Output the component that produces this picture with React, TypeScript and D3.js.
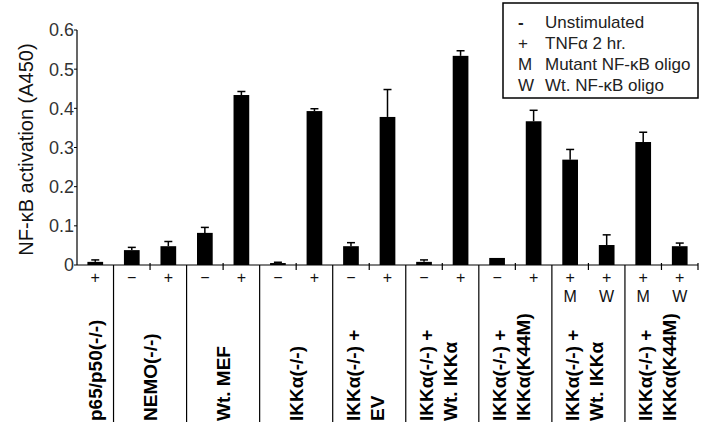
import React from "react";
import * as d3 from "d3";

// one entry per bar, left to right
const treatments = ["+", "−", "+", "−", "+", "−", "+", "−", "+", "−", "+", "−", "+", "+", "+", "+", "+"];
const oligos = ["", "", "", "", "", "", "", "", "", "", "", "", "", "M", "W", "M", "W"];
const values = [0.008, 0.038, 0.048, 0.082, 0.434, 0.005, 0.393, 0.048, 0.378, 0.008, 0.534, 0.018, 0.367, 0.269, 0.051, 0.314, 0.048];
const errors = [0.005, 0.007, 0.012, 0.014, 0.009, 0.002, 0.006, 0.009, 0.07, 0.005, 0.013, 0, 0.028, 0.026, 0.026, 0.025, 0.008];

// cell lines, each covering groupSizes[i] bars
const groupLabels = [
  ["p65/p50(-/-)"],
  ["NEMO(-/-)"],
  ["Wt. MEF"],
  ["IKKα(-/-)"],
  ["IKKα(-/-) +", "EV"],
  ["IKKα(-/-) +", "Wt. IKKα"],
  ["IKKα(-/-) +", "IKKα(K44M)"],
  ["IKKα(-/-) +", "Wt. IKKα"],
  ["IKKα(-/-) +", "IKKα(K44M)"],
];
const groupSizes = [1, 2, 2, 2, 2, 2, 2, 2, 2];

const yTicks = [0, 0.1, 0.2, 0.3, 0.4, 0.5, 0.6];

const legendSymbols = ["-", "+", "M", "W"];
const legendTexts = ["Unstimulated", "TNFα  2 hr.", "Mutant NF-κB oligo", "Wt. NF-κB oligo"];

const W = 716;
const H = 437;
const left = 77;
const right = 698;
const axisY = 265;
const labelBottom = 421;
const font = "'Liberation Sans', Arial, sans-serif";

export default function App() {
  const idx = values.map((_, i) => i);
  const x = d3
    .scaleBand<number>()
    .domain(idx)
    .range([left, right])
    .paddingInner(0.57)
    .paddingOuter(0.285);
  const step = x.step();
  const y = d3.scaleLinear().domain([0, 0.6]).range([axisY, 30]);

  // boundaries between bars
  const starts = d3.cumsum([0, ...groupSizes]);
  const groupEdges = new Set(Array.from(starts).slice(1, -1));
  const boundaries = d3.range(1, values.length + 1);

  const fmt = (v: number) => (v === 0 ? "0" : d3.format(".1f")(v));

  return (
    <svg
      width={W}
      height={H}
      style={{ position: "absolute", left: 0, top: 0, background: "#fff" }}
      fontFamily={font}
    >
      {/* y axis */}
      <line x1={left} x2={left} y1={y(0.6)} y2={axisY} stroke="#000" strokeWidth={1.2} />
      {yTicks.map((t) => (
        <g key={t}>
          <line x1={left - 3} x2={left} y1={y(t)} y2={y(t)} stroke="#000" />
          <text x={left - 3} y={y(t)} dy="0.36em" textAnchor="end" fontSize={18} fill="#333">
            {fmt(t)}
          </text>
        </g>
      ))}
      <text
        transform={`translate(26,${(y(0.6) + axisY) / 2 + 2}) rotate(-90)`}
        textAnchor="middle"
        dominantBaseline="central"
        fontSize={20}
        fill="#111"
      >
        NF-κB activation (A450)
      </text>

      {/* bars */}
      {values.map((v, i) => (
        <rect key={i} x={x(i)} y={y(v)} width={x.bandwidth()} height={axisY - y(v)} fill="#000" />
      ))}
      {/* error bars */}
      {values.map((v, i) => {
        if (!errors[i]) return null;
        const cx = (x(i) as number) + x.bandwidth() / 2;
        return (
          <g key={i} stroke="#000" strokeWidth={1.5}>
            <line x1={cx} x2={cx} y1={y(v)} y2={y(v + errors[i])} />
            <line x1={cx - 4} x2={cx + 4} y1={y(v + errors[i])} y2={y(v + errors[i])} />
          </g>
        );
      })}

      {/* x axis */}
      <line x1={left} x2={right} y1={axisY} y2={axisY} stroke="#000" strokeWidth={1.2} />
      {boundaries.map((b) => {
        const bx = left + b * step;
        return groupEdges.has(b) ? (
          <line key={b} x1={bx} x2={bx} y1={axisY} y2={labelBottom + 1} stroke="#000" strokeWidth={1.2} />
        ) : (
          <line key={b} x1={bx} x2={bx} y1={axisY - 2} y2={axisY + 5} stroke="#000" strokeWidth={1.2} />
        );
      })}

      {/* treatment signs */}
      {treatments.map((t, i) => {
        const cx = (x(i) as number) + x.bandwidth() / 2;
        return (
          <g key={i}>
            <text x={cx} y={277} dy="0.35em" textAnchor="middle" fontSize={16} fill="#111">
              {t}
            </text>
            {oligos[i] && (
              <text x={cx} y={296} dy="0.35em" textAnchor="middle" fontSize={16} fill="#111">
                {oligos[i]}
              </text>
            )}
          </g>
        );
      })}

      {/* cell line labels */}
      {groupLabels.map((lines, g) => {
        const gx = left + ((starts[g] + starts[g + 1]) / 2) * step;
        const offsets = lines.length === 1 ? [0] : [-16, 8];
        return lines.map((s, k) => (
          <text
            key={g + "-" + k}
            transform={`translate(${gx + offsets[k]},${labelBottom}) rotate(-90)`}
            dominantBaseline="central"
            fontSize={19}
            fontWeight="bold"
            fill="#000"
          >
            {s}
          </text>
        ));
      })}

      {/* legend */}
      <rect x={503} y={3} width={195} height={95} fill="#fff" stroke="#000" strokeWidth={1.5} />
      {legendTexts.map((s, i) => (
        <g key={s} fontSize={17} fill="#222">
          <text x={518} y={22 + i * 21} dy="0.35em" fontWeight={i === 0 ? "bold" : "normal"}>
            {legendSymbols[i]}
          </text>
          <text x={545} y={22 + i * 21} dy="0.35em">
            {s}
          </text>
        </g>
      ))}
    </svg>
  );
}
